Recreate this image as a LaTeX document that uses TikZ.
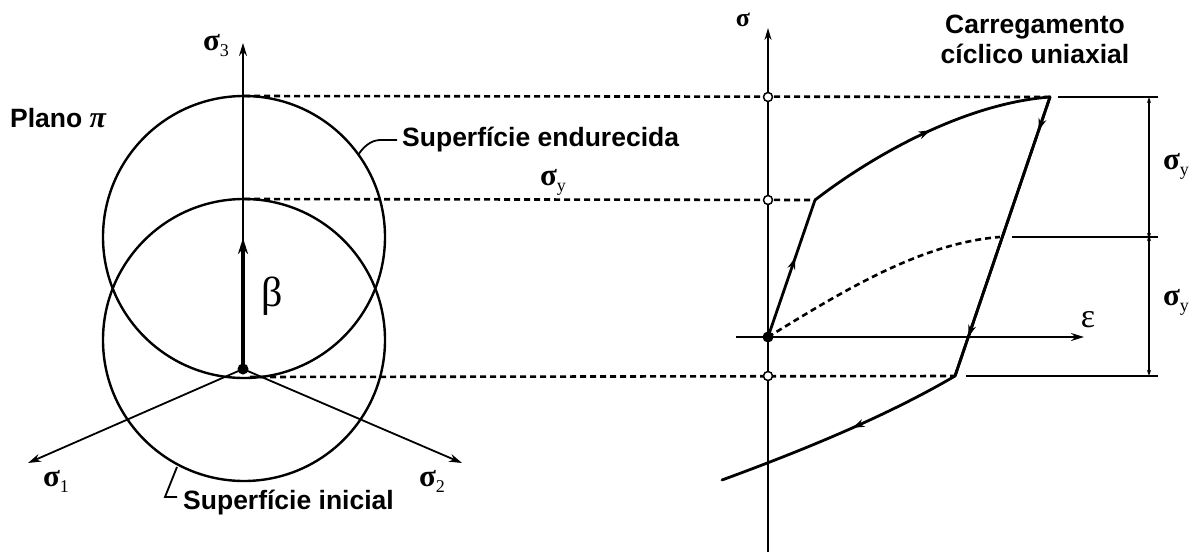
\documentclass[tikz,border=0pt]{standalone}
\usepackage{fontspec}
\setmainfont{Liberation Sans}
\newfontfamily\tms{Liberation Serif}
\usetikzlibrary{arrows.meta,decorations.markings}
\begin{document}
\begin{tikzpicture}[x=1pt,y=-1pt,
  axisline/.style={line width=1.8pt},
  circ/.style={line width=2.4pt},
  loopline/.style={line width=2.8pt, line cap=round, line join=round},
  dashline/.style={line width=2.6pt, dash pattern=on 6pt off 4pt},
  lbl/.style={font=\fontsize{26.5}{30}\selectfont\bfseries, inner sep=0pt, align=center},
  gk/.style={font=\tms\bfseries\fontsize{31}{34}\selectfont, inner sep=0pt},
  opendot/.style={circle, draw, fill=white, line width=1.5pt, minimum size=9pt, inner sep=0pt},
  filldot/.style={circle, fill, minimum size=11pt, inner sep=0pt},
  arrowat/.style={postaction={decorate}, decoration={markings, mark=at position #1 with {\arrow{Stealth[length=12pt,width=8pt]}}}},
]
\newcommand{\subtx}[1]{\raisebox{-6pt}{\mdseries\fontsize{18}{18}\selectfont #1}}
\useasboundingbox (0,0) rectangle (1194,552);

% ---------- left: pi plane ----------
\coordinate (O) at (243,369);
\coordinate (S3) at (243,43);
\coordinate (S1) at (28,463);
\coordinate (S2) at (462,463);
\coordinate (Cu) at (244,237);
\coordinate (Cl) at (244,340);
\coordinate (Tu) at (244,96);
\coordinate (Tl) at (244,199);
\coordinate (Bu) at (250,377);
\coordinate (Bt) at (243,238);

\draw[circ] (Cu) circle[radius=141pt];
\draw[circ] (Cl) circle[radius=141pt];

\draw[axisline,-{Stealth[length=13pt,width=8pt]}] (O) -- (S3);
\draw[axisline,-{Stealth[length=13pt,width=8pt]}] (O) -- (S1);
\draw[axisline,-{Stealth[length=13pt,width=8pt]}] (O) -- (S2);
\draw[line width=4.5pt,-{Stealth[length=16pt,width=10pt]}] (O) -- (Bt);
\node[filldot] (od) at (O) {};

\node[gk] (s3l) at (216,46) {σ\subtx{3}};
\node[gk] (s1l) at (56,481) {σ\subtx{1}};
\node[gk] (s2l) at (432,481) {σ\subtx{2}};
\node[font=\tms\fontsize{42}{44}\selectfont, inner sep=0pt] (beta) at (272,296) {β};
\node[gk] (syl) at (553,182) {σ\subtx{y}};

\node[lbl, anchor=west] (plano) at (10,118) {Plano {\tms\itshape\fontsize{30}{30}\selectfont π}};
\node[lbl, anchor=west] (endu) at (402,140) {Superfície endurecida};
\node[lbl, anchor=west] (inic) at (183,503) {Superfície inicial};

\coordinate (Le1) at (358,155);
\coordinate (Le2) at (397,140);
\draw[line width=1.8pt] (Le1) .. controls (366,143) and (374,140) .. (381,140) -- (Le2);
\coordinate (Li1) at (177,467);
\coordinate (Li2) at (165,497);
\coordinate (Li3) at (177,497);
\draw[line width=1.8pt] (Li1) -- (Li2) -- (Li3);

% ---------- right: cyclic loading ----------
\coordinate (E0) at (768,337);
\coordinate (Sbot) at (768,552);
\coordinate (Stop) at (768,28);
\coordinate (Eleft) at (736,337);
\coordinate (Eright) at (1084,337);
\coordinate (Y1) at (815,200);
\coordinate (P1) at (1050,97);
\coordinate (P2) at (955,376);
\coordinate (End) at (722,480);
\coordinate (Dm) at (1000,237);

% dashed projection lines
\draw[dashline] (Tu) -- (P1);
\draw[dashline] (Tl) -- (Y1);
\draw[dashline] (Bu) -- (P2);
\draw[dashline] (E0) .. controls (840,293) and (920,243) .. (Dm);

% axes
\draw[axisline,-{Stealth[length=12pt,width=7pt]}] (Sbot) -- (Stop);
\draw[axisline,-{Stealth[length=13pt,width=8pt]}] (Eleft) -- (Eright);
\node[font=\tms\bfseries\fontsize{26}{28}\selectfont, inner sep=0pt] (sig) at (743,20) {σ};
\node[font=\tms\fontsize{34}{36}\selectfont, inner sep=0pt] (eps) at (1088,320) {ε};

% loop
\draw[loopline, arrowat=0.58] (E0) -- (Y1);
\draw[loopline, arrowat=0.52] (Y1) .. controls (880,150) and (970,103) .. (P1);
\draw[loopline, arrowat=0.12] (P1) -- (P2);
\draw[loopline, arrowat=0.86] (P1) -- (P2);
\draw[loopline, arrowat=0.45] (P2) .. controls (880,420) and (790,455) .. (End);

\node[filldot] (ed) at (E0) {};
\node[opendot] (o1) at (768,97) {};
\node[opendot] (o2) at (768,200) {};
\node[opendot] (o3) at (768,376) {};

% dimension lines
\coordinate (H1a) at (1058,97);  \coordinate (H1b) at (1158,97);
\coordinate (H2a) at (1012,237); \coordinate (H2b) at (1158,237);
\coordinate (H3a) at (966,376);  \coordinate (H3b) at (1158,376);
\coordinate (V1) at (1149,97);
\coordinate (V2) at (1149,237);
\coordinate (V3) at (1149,376);
\draw[line width=2pt] (H1a) -- (H1b);
\draw[line width=2pt] (H2a) -- (H2b);
\draw[line width=2pt] (H3a) -- (H3b);
\draw[line width=1.6pt, {Stealth[length=6pt,width=4pt]}-{Stealth[length=6pt,width=4pt]}] (V1) -- ([yshift=-2pt]V2);
\draw[line width=1.6pt, {Stealth[length=6pt,width=4pt]}-{Stealth[length=6pt,width=4pt]}] ([yshift=2pt]V2) -- (V3);
\node[gk] (sy1) at (1176,166) {σ\subtx{y}};
\node[gk] (sy2) at (1176,302) {σ\subtx{y}};

\node[lbl] (carr) at (1035,39) {Carregamento\\cíclico uniaxial};
\end{tikzpicture}
\end{document}
